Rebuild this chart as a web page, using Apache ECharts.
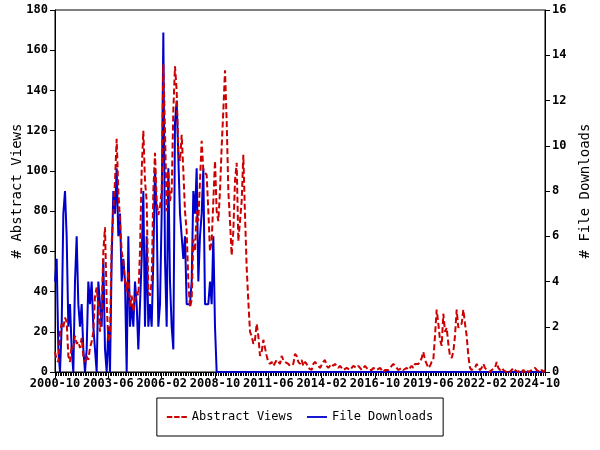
<!DOCTYPE html>
<html>
<head>
<meta charset="utf-8">
<script src="https://cdn.jsdelivr.net/npm/echarts@6/dist/echarts.min.js"></script>
<style>html,body{margin:0;padding:0;background:#fff}#c{width:600px;height:450px}</style>
</head>
<body>
<div id="c"></div>
<script>
// Monthly categories from 2000-10 to 2025-04
const startYear = 2000, startMonth = 10, nMonths = 295;
const categories = [];
for (let k = 0; k < nMonths; k++) {
  const m = startMonth - 1 + k;
  const y = startYear + Math.floor(m / 12);
  const mm = (m % 12) + 1;
  categories.push(y + '-' + (mm < 10 ? '0' + mm : mm));
}

const abstractViews = [
10,6,5,20,24,22,27,25,8,5,13,12,18,14,15,12,17,8,5,8,
6,12,15,20,38,42,32,20,30,60,72,35,15,18,64,80,95,116,90,75,
60,55,45,40,50,32,38,30,35,40,38,60,100,120,95,85,40,38,45,90,
109,85,78,82,90,153,120,80,100,85,90,130,152,140,110,105,118,100,80,70,
45,32,36,66,60,80,75,95,115,100,99,98,80,60,65,85,105,80,75,90,
112,130,150,125,90,75,58,70,95,104,65,75,85,108,78,52,35,20,18,14,
16,24,18,8,10,16,12,8,5,4,5,3,3,6,5,4,8,6,5,5,
4,3,3,4,9,8,5,4,6,3,5,4,2,2,1,4,5,5,3,2,
2,5,6,3,2,3,4,3,4,3,2,3,2,1,1,2,2,1,2,3,
3,2,3,2,1,2,3,2,1,1,1,2,2,1,1,2,1,0,1,1,
1,2,3,4,3,2,1,1,2,1,1,2,1,2,3,2,4,4,4,5,
7,10,6,4,2,3,5,6,18,31,24,16,13,29,20,22,14,8,7,10,
18,31,22,22,24,31,24,18,8,2,1,1,2,4,2,1,2,4,2,1,
1,0,1,1,2,5,2,1,2,1,1,0,1,0,1,2,1,1,0,1,
0,1,0,1,0,0,1,1,2,1,1,0,1,0,1
];

const fileDownloads = [
4,5,1,0,2,7,8,6,2,3,1,0,4,6,3,2,3,1,0,1,
4,3,4,2,1,0,4,3,2,5,1,0,2,0,5,8,7,9,6,7,
4,5,4,0,6,2,3,2,4,3,1,3,5,8,2,6,2,3,2,5,
9,7,2,3,7,15,5,2,9,4,2,1,11,12,12,7,6,5,6,3,
3,3,4,8,7,9,4,6,7,9,3,3,3,4,3,6,2,0,0,0,
0,0,0,0,0,0,0,0,0,0,0,0,0,0,0,0,0,0,0,0,
0,0,0,0,0,0,0,0,0,0,0,0,0,0,0,0,0,0,0,0,
0,0,0,0,0,0,0,0,0,0,0,0,0,0,0,0,0,0,0,0,
0,0,0,0,0,0,0,0,0,0,0,0,0,0,0,0,0,0,0,0,
0,0,0,0,0,0,0,0,0,0,0,0,0,0,0,0,0,0,0,0,
0,0,0,0,0,0,0,0,0,0,0,0,0,0,0,0,0,0,0,0,
0,0,0,0,0,0,0,0,0,0,0,0,0,0,0,0,0,0,0,0,
0,0,0,0,0,0,0,0,0,0,0,0,0,0,0,0,0,0,0,0,
0,0,0,0,0,0,0,0,0,0,0,0,0,0,0,0,0,0,0,0,
0,0,0,0,0,0,0,0,0,0,0,0,0,0,0
];

const seriesNames = ['Abstract Views', 'File Downloads'];
const leftAxisName = '# Abstract Views';
const rightAxisName = '# File Downloads';

const FONT = 'DejaVu Sans Mono';
const chart = echarts.init(document.getElementById('c'), null, {renderer: 'canvas'});
chart.setOption({
  animation: false,
  backgroundColor: '#ffffff',
  grid: {left: 55, right: 55, top: 10, bottom: 78, show: true, borderColor: '#000', borderWidth: 1,
         backgroundColor: 'transparent', containLabel: false, outerBoundsMode: 'none'},
  legend: {
    data: [
      {name: seriesNames[0], icon: 'path://M0,0h6v2h-6z M8,0h6v2h-6z M16,0h6v2h-6z'},
      {name: seriesNames[1], icon: 'path://M0,0h22v2h-22z'}
    ],
    left: 'center', top: 398,
    padding: [13, 10], itemGap: 14, itemWidth: 20, itemHeight: 2,
    borderColor: '#000', borderWidth: 1,
    textStyle: {fontFamily: FONT, fontSize: 12, color: '#000'}
  },
  xAxis: [{
    type: 'category', data: categories, boundaryGap: false,
    axisLine: {lineStyle: {color: '#000'}},
    axisTick: {interval: 0, length: 4, lineStyle: {color: '#000'}},
    axisLabel: {show: false}
  }, {
    type: 'category', data: categories, boundaryGap: false, position: 'bottom',
    axisLine: {show: false},
    axisTick: {interval: 31, length: 6, lineStyle: {color: '#000'}},
    axisLabel: {interval: 31, fontFamily: FONT, fontWeight: 'bold', fontSize: 12, color: '#000', margin: 6}
  }],
  yAxis: [{
    type: 'value', min: 0, max: 180, interval: 20, position: 'left',
    name: leftAxisName, nameLocation: 'middle', nameGap: 31, nameRotate: 90, nameMoveOverlap: false,
    nameTextStyle: {fontFamily: FONT, fontSize: 14, color: '#000'},
    axisLine: {show: true, lineStyle: {color: '#000'}},
    axisTick: {show: true, length: 5, lineStyle: {color: '#000'}},
    axisLabel: {fontFamily: FONT, fontWeight: 'bold', fontSize: 12, color: '#000', margin: 7},
    splitLine: {show: false}
  }, {
    type: 'value', min: 0, max: 16, interval: 2, position: 'right',
    name: rightAxisName, nameLocation: 'middle', nameGap: 33, nameRotate: 90, nameMoveOverlap: false,
    nameTextStyle: {fontFamily: FONT, fontSize: 14, color: '#000'},
    axisLine: {show: true, lineStyle: {color: '#000'}},
    axisTick: {show: true, length: 5, lineStyle: {color: '#000'}},
    axisLabel: {fontFamily: FONT, fontWeight: 'bold', fontSize: 12, color: '#000', margin: 7},
    splitLine: {show: false}
  }],
  series: [{
    name: seriesNames[0], type: 'line', data: abstractViews,
    xAxisIndex: 0, yAxisIndex: 0, symbol: 'none', z: 3,
    itemStyle: {color: '#cc0000'},
    lineStyle: {color: '#cc0000', width: 2, type: [6, 3]}
  }, {
    name: seriesNames[1], type: 'line', data: fileDownloads,
    xAxisIndex: 0, yAxisIndex: 1, symbol: 'none', z: 2,
    itemStyle: {color: '#0000cc'},
    lineStyle: {color: '#0000cc', width: 2}
  }]
});
</script>
</body>
</html>
